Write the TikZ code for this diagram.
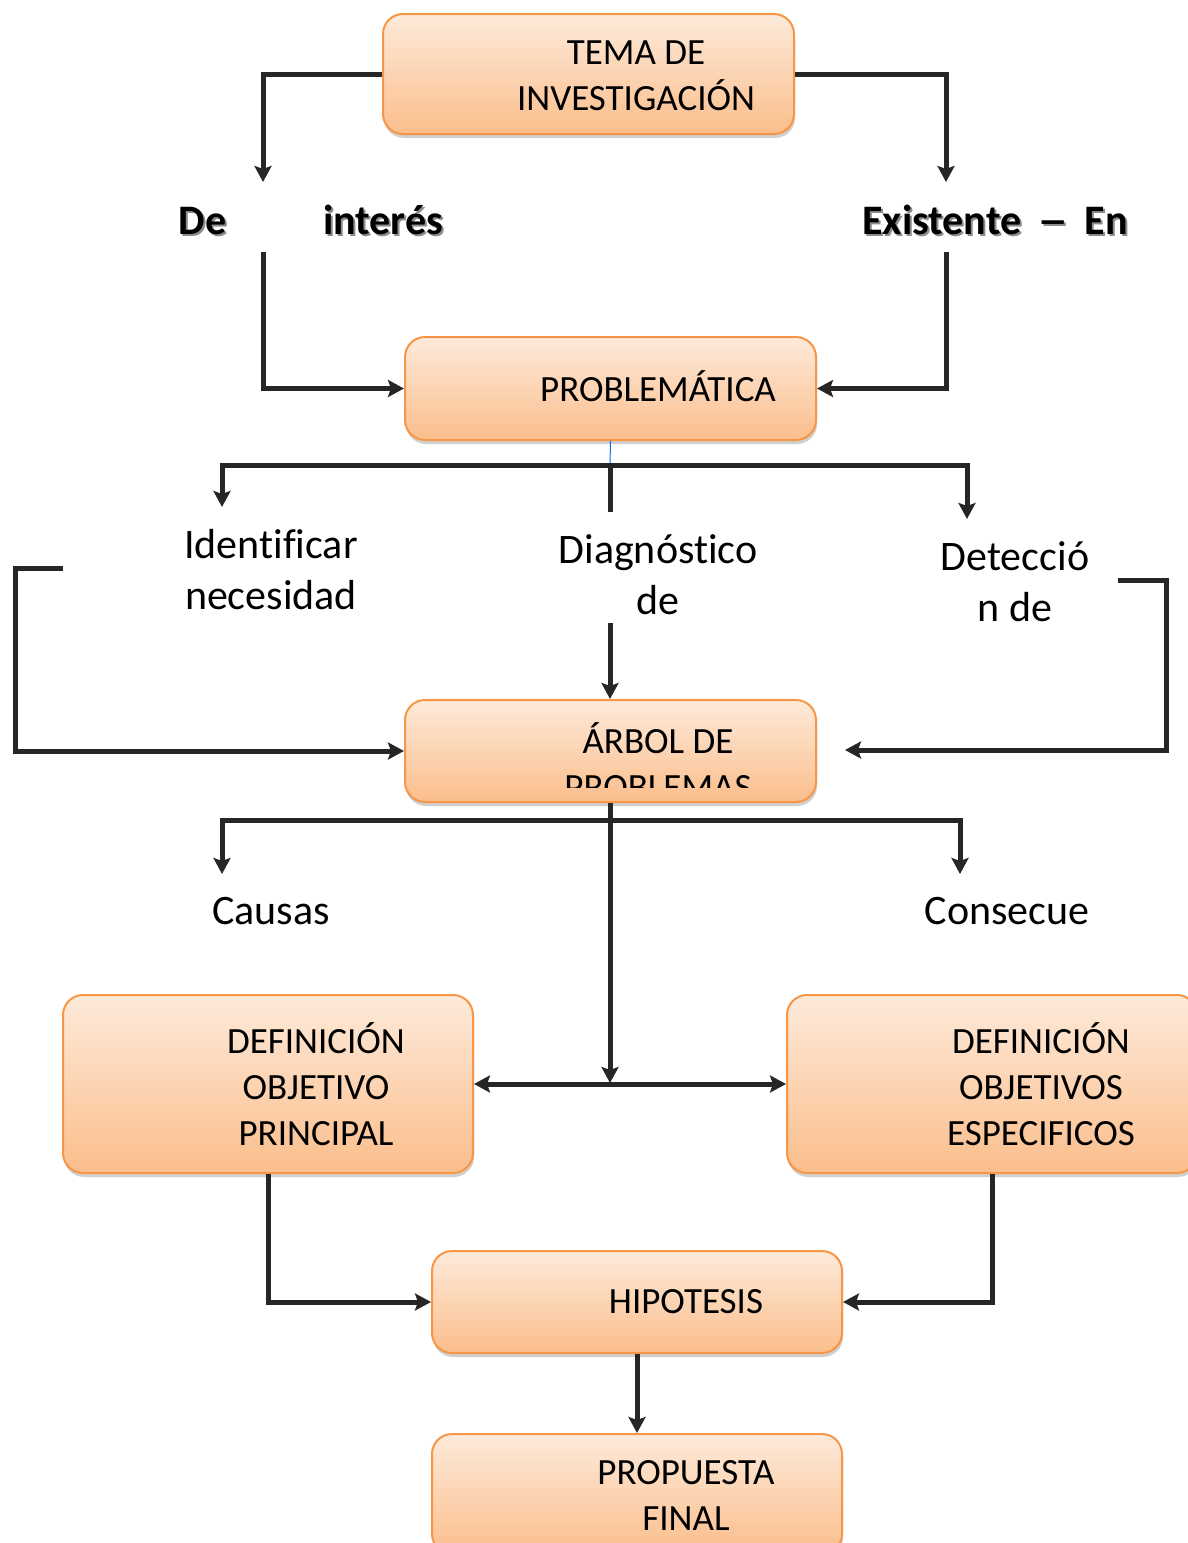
\documentclass[tikz,border=0pt]{standalone}
\usepackage{fontspec}
\setmainfont{Carlito}[RawFeature={-liga;-dlig;-clig}]
\usetikzlibrary{arrows.meta,shadows,calc}
\definecolor{ln}{HTML}{262626}
\definecolor{bordo}{HTML}{F79646}
\definecolor{topc}{HTML}{FDEADA}
\definecolor{botc}{HTML}{FBBE8C}
\newcommand{\nolig}{\kern0pt }
\begin{document}
\begin{tikzpicture}[x=1pt,y=-1pt,
 box/.style={draw=bordo, line width=2pt, rounded corners=20pt, top color=topc, bottom color=botc,
   drop shadow={shadow xshift=1pt, shadow yshift=-4pt, opacity=0.3, fill=black!60}, inner sep=0pt},
 btext/.style={font=\fontsize{37}{46}\selectfont, align=center, inner sep=0pt},
 ltext/.style={font=\fontsize{42}{51}\selectfont, align=center, inner sep=0pt},
 boldtext/.style={font=\fontsize{42}{51}\selectfont\bfseries, inner sep=0pt},
 conn/.style={draw=ln, line width=5pt},
 arr/.style={conn, -{Stealth[length=16pt,width=17pt,inset=3pt]}},
 darr/.style={conn, {Stealth[length=16pt,width=17pt,inset=3pt]}-{Stealth[length=16pt,width=17pt,inset=3pt]}},
]
\useasboundingbox[fill=white] (0,0) rectangle (1187,1543);

% boxes
\node[box, minimum width=411pt, minimum height=120pt] (tema) at (588.5,74) {};
\node[btext] (tematx) at (636,76) {TEMA DE\\INVESTIGACIÓN};

\node[box, minimum width=411pt, minimum height=103pt] (prob) at (610.5,388.5) {};
\node[btext] (probtx) at (658,386) {PROBLEMÁTICA};

\node[box, minimum width=411pt, minimum height=102pt] (arbol) at (610.5,751) {};
\begin{scope}
\clip (0,0) rectangle (1187,787);
\node[btext] (arboltx) at (658,761) {ÁRBOL DE\\PROBLEMAS};
\end{scope}

\node[box, minimum width=410pt, minimum height=178pt] (defp) at (268,1084) {};
\node[btext] (defptx) at (316,1084) {DEFINICIÓN\\OBJETIVO\\PRINCIPAL};

\node[box, minimum width=410pt, minimum height=178pt] (defe) at (992,1084) {};
\node[btext] (defetx) at (1041,1084) {DEFINICIÓN\\OBJETIVOS\\ESPECIFICOS};

\node[box, minimum width=410pt, minimum height=102pt] (hip) at (637,1302) {};
\node[btext] (hiptx) at (686,1302) {HIPOTESIS};

\node[box, minimum width=410pt, minimum height=120pt] (prop) at (637,1494) {};
\node[btext] (proptx) at (686,1495) {PROPUESTA\\FINAL};

% labels
\node[boldtext, text=black!45] (deish) at (313,222) {De\hspace{97pt}interés};
\node[boldtext] (dei) at (311,220) {De\hspace{97pt}interés};
\node[boldtext, text=black!45] (exish) at (997,222) {Existente\hspace{16pt}\scalebox{1.5}[1]{–}\hspace{16pt}En};
\node[boldtext] (exi) at (995,220) {Existente\hspace{16pt}\scalebox{1.5}[1]{–}\hspace{16pt}En};

\node[ltext] (ident) at (271,570) {Ident\nolig i\nolig f\nolig icar\\necesidad};
\begin{scope}
\clip (0,0) rectangle (1187,614);
\node[ltext] (diag) at (658,575) {Diagnóst\nolig ico\\de};
\end{scope}
\node[ltext] (detec) at (1015,582) {Detecció\\n de};
\node[ltext] (causas) at (271,911) {Causas};
\node[ltext] (consec) at (1007,911) {Consecue};

% coordinates
\coordinate (a2) at (263,182);
\coordinate (b2) at (946,182);
\coordinate (c1) at (263,252);
\coordinate (d1) at (946,252);
\coordinate (j1) at (610,465);
\coordinate (iL) at (222,507);
\coordinate (iR) at (967,519);
\coordinate (j2) at (610,512);
\coordinate (j3) at (610,623);
\coordinate (k1) at (63,568);
\coordinate (k2) at (15,568);
\coordinate (m1) at (1118,580);
\coordinate (m2) at (1166,580);
\coordinate (m3) at (845,750);
\coordinate (m4) at (1166,750);
\coordinate (n1) at (610,1083);
\coordinate (p0) at (610,820);
\coordinate (pL) at (222,874);
\coordinate (pR) at (960,874);

% connectors
\draw[arr] (tema.west) -| (a2);
\draw[arr] (tema.east) -| (b2);
\draw[arr] (c1) |- (prob.west);
\draw[arr] (d1) |- (prob.east);
\draw[draw=blue!55!cyan, line width=1pt] (prob.south) -- (j1);
\draw[arr] (j1) -| (iL);
\draw[arr] (j1) -| (iR);
\draw[conn] (j1) -- (j2);
\draw[arr] (j3) -- (j3 |- arbol.north);
\draw[arr] (k1) -- (k2) |- (arbol.west);
\draw[arr] (m1) -- (m2) -- (m4) -- (m3);
\draw[arr] (p0 |- arbol.south) -- (n1);
\draw[arr] (p0) -| (pL);
\draw[arr] (p0) -| (pR);
\draw[darr] (defp.east) -- (defe.west);
\draw[arr] (defp.south) |- (hip.west);
\draw[arr] (defe.south) |- (hip.east);
\draw[arr] (hip.south) -- (prop.north);
\end{tikzpicture}
\end{document}
